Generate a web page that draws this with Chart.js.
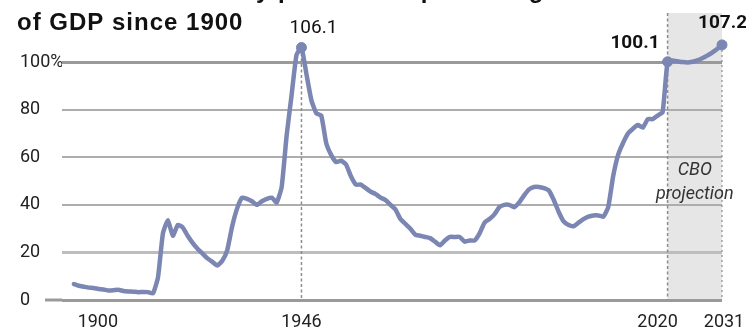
<!DOCTYPE html>
<html><head><meta charset="utf-8">
<script src="https://cdn.jsdelivr.net/npm/chart.js@4"></script>
<style>html,body{margin:0;padding:0;background:#fff;} #wrap{position:relative;width:746px;height:332px;} canvas{display:block;}</style>
</head><body><div id="wrap"><canvas id="c" width="746" height="332"></canvas></div>
<script>
// ---- data ----
const years = [
1900,1901,1902,1903,1904,1905,1906,1907,1908,1909,
1910,1911,1912,1913,1914,1915,1916,1917,1918,1919,
1920,1921,1922,1923,1924,1925,1926,1927,1928,1929,
1930,1931,1932,1933,1934,1935,1936,1937,1938,1939,
1940,1941,1942,1943,1944,1945,1946,1947,1948,1949,
1950,1951,1952,1953,1954,1955,1956,1957,1958,1959,
1960,1961,1962,1963,1964,1965,1966,1967,1968,1969,
1970,1971,1972,1973,1974,1975,1976,1977,1978,1979,
1980,1981,1982,1983,1984,1985,1986,1987,1988,1989,
1990,1991,1992,1993,1994,1995,1996,1997,1998,1999,
2000,2001,2002,2003,2004,2005,2006,2007,2008,2009,
2010,2011,2012,2013,2014,2015,2016,2017,2018,2019,
2020,2021,2022,2023,2024,2025,2026,2027,2028,2029,
2030,2031];
const debtPct = [
6.7,6.0,5.6,5.2,5.0,4.6,4.4,4.0,4.1,4.3,
3.8,3.6,3.5,3.3,3.4,3.3,2.8,9.5,28.0,33.5,
27.0,31.5,30.5,27.0,24.0,21.5,19.5,17.5,16.0,14.5,
16.5,21.0,31.0,38.5,43.0,42.5,41.5,40.0,41.5,42.5,
43.0,41.0,47.5,69.0,86.0,103.0,106.1,95.0,84.0,78.5,
77.5,66.0,61.0,58.0,58.5,57.0,52.0,48.5,48.5,47.0,
45.5,44.5,43.0,42.0,40.0,38.0,34.0,32.0,30.0,27.5,
27.0,26.5,26.0,24.5,23.0,25.0,26.5,26.5,26.5,24.5,
25.0,25.0,28.0,32.5,34.0,36.0,39.0,40.0,40.0,39.0,
41.0,44.0,46.5,47.5,47.5,47.0,46.0,42.0,37.0,33.0,
31.5,31.0,32.5,34.0,35.0,35.5,35.5,35.0,39.0,52.0,
61.0,66.0,70.0,72.0,73.5,72.5,76.0,76.0,77.5,79.0,
100.1,100.6,100.3,100.0,99.8,100.1,100.7,101.6,102.7,104.0,
105.5,107.2];
const yTicks = [0,20,40,60,80,100];
const xTickYears = [1900,1946,2020,2031];
const xTickLabels = ['1900','1946','2020','2031'];
const titleLines = ['Federal debt held by public as a percentage','of GDP since 1900'];
const calloutYears = [1946,2020,2031];
const calloutLabels = ['106.1','100.1','107.2'];
const projectionStart = 2020, projectionEnd = 2031;
const projectionText = ['CBO','projection'];

// ---- styles ----
const LINE = 'rgb(123,134,178)';
const FONT = 'Roboto, "Liberation Sans", sans-serif';
const xLabelShift = {1900: 24, 1946: 0, 2020: -10, 2031: 2};
const calloutStyle = {
  1946: {weight:'normal', align:'center', dx:12, dy:-19},
  2020: {weight:'bold', align:'right', dx:-8, dy:-19},
  2031: {weight:'bold', align:'left', dx:-24, dy:-22}
};

const points = years.map((yr,i)=>({x:yr, y:debtPct[i]}));

const annot = {
  id:'annot',
  beforeDraw(chart){
    const {ctx, scales:{x,y}} = chart;
    const x0 = x.getPixelForValue(projectionStart), x1 = x.getPixelForValue(projectionEnd);
    const yb = y.getPixelForValue(0);
    ctx.save();
    ctx.fillStyle = '#e6e6e6';
    ctx.fillRect(x0, 13, x1-x0, yb-13);
    ctx.restore();
  },
  beforeDatasetsDraw(chart){
    const {ctx, chartArea:a, scales:{x,y}} = chart;
    const yb = y.getPixelForValue(0);
    ctx.save();
    ctx.strokeStyle = '#9a9a9a'; ctx.lineWidth = 3;
    ctx.beginPath(); ctx.moveTo(45, yb); ctx.lineTo(a.left, yb); ctx.stroke();
    ctx.strokeStyle = '#8c8c8c'; ctx.lineWidth = 1.5;
    ctx.setLineDash([3,2.5]);
    let px = x.getPixelForValue(1946);
    ctx.beginPath(); ctx.moveTo(px, y.getPixelForValue(106.1)); ctx.lineTo(px, yb); ctx.stroke();
    px = x.getPixelForValue(projectionStart);
    ctx.beginPath(); ctx.moveTo(px, 13); ctx.lineTo(px, yb); ctx.stroke();
    ctx.setLineDash([2,3]); ctx.lineWidth = 1.2;
    px = x.getPixelForValue(projectionEnd);
    ctx.beginPath(); ctx.moveTo(px, y.getPixelForValue(107.2)); ctx.lineTo(px, yb); ctx.stroke();
    ctx.restore();
  },
  afterDraw(chart){
    const {ctx, scales:{x,y}} = chart;
    ctx.save();
    ctx.fillStyle = '#111';
    ctx.font = 'bold 24px "Liberation Sans", Arial, sans-serif';
    ctx.letterSpacing = '1px';
    ctx.textAlign = 'left'; ctx.textBaseline = 'alphabetic';
    ctx.fillText(titleLines[0], 17, -2);
    ctx.fillText(titleLines[1], 17, 30);
    ctx.letterSpacing = '0px';
    ctx.fillStyle = '#222';
    ctx.font = '18px ' + FONT;
    ctx.textAlign = 'center'; ctx.textBaseline = 'middle';
    xTickYears.forEach((yr,i)=>{
      ctx.fillText(xTickLabels[i], x.getPixelForValue(yr) + (xLabelShift[yr]||0), 322);
    });
    const cx = (x.getPixelForValue(projectionStart) + x.getPixelForValue(projectionEnd))/2;
    ctx.fillStyle = '#333';
    ctx.font = 'italic 18px ' + FONT;
    ctx.fillText(projectionText[0], cx, 170);
    ctx.fillText(projectionText[1], cx, 194);
    ctx.fillStyle = '#111';
    calloutYears.forEach((yr,i)=>{
      const s = calloutStyle[yr];
      const v = debtPct[years.indexOf(yr)];
      ctx.font = (s.weight==='bold'?'bold ':'') + '19px ' + FONT;
      ctx.textAlign = s.align;
      ctx.fillText(calloutLabels[i], x.getPixelForValue(yr)+s.dx, y.getPixelForValue(v)+s.dy);
    });
    ctx.restore();
  }
};

new Chart(document.getElementById('c'), {
  type:'line',
  data:{datasets:[{
    data: points,
    borderColor: LINE,
    borderWidth: 4.5,
    borderJoinStyle:'round',
    borderCapStyle:'round',
    tension: 0.15,
    pointRadius: c => calloutYears.includes(c.raw && c.raw.x) ? 5 : 0,
    pointBackgroundColor: LINE,
    pointBorderColor: LINE,
    pointBorderWidth: 1,
    clip: false
  }]},
  options:{
    responsive:false, animation:false, maintainAspectRatio:false,
    layout:{padding:{left:20, right:24, top:43, bottom:32}},
    plugins:{legend:{display:false}, tooltip:{enabled:false}, title:{display:false}},
    scales:{
      x:{type:'linear', min:1897.6, max:2031, display:false},
      y:{
        type:'linear', min:0, max:108,
        afterFit: s => { s.width = 42; },
        afterBuildTicks: s => { s.ticks = yTicks.map(v=>({value:v})); },
        border:{display:false},
        grid:{
          drawTicks:false,
          color: c => (c.tick && (c.tick.value===0 || c.tick.value===100)) ? '#9a9a9a' : (c.tick && c.tick.value===20 ? '#bdbdbd' : '#adadad'),
          lineWidth: c => (c.tick && (c.tick.value===0 || c.tick.value===100 || c.tick.value===20)) ? 3 : 2
        },
        ticks:{
          crossAlign:'far', padding:0, color:'#222',
          font:{family:FONT, size:18},
          callback: v => v===100 ? '100%' : String(v)
        }
      }
    }
  },
  plugins:[annot]
});
</script>
</body></html>
